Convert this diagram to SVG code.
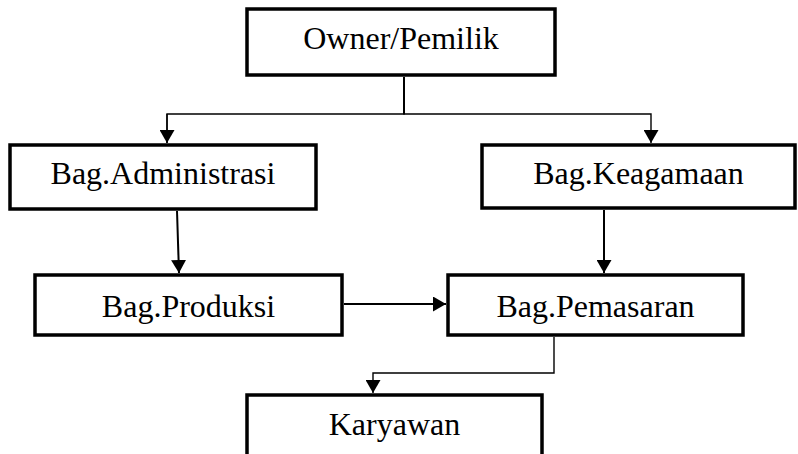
<svg xmlns="http://www.w3.org/2000/svg" width="798" height="454" viewBox="0 0 798 454">
<defs>
<style>
.box{fill:#fff;stroke:#000;stroke-width:3.5}
.lbl{font-family:"Liberation Serif","Times New Roman",serif;font-size:32px;fill:#000;text-anchor:middle}
.thin{fill:none;stroke:#000;stroke-width:1.4}
.thick{fill:none;stroke:#000;stroke-width:2}
</style>
<marker id="arr" viewBox="0 0 13 15" refX="13" refY="7.5" markerWidth="13" markerHeight="15" markerUnits="userSpaceOnUse" orient="auto">
<path d="M0,0 L13,7.5 L0,15 z" fill="#000"/>
</marker>
</defs>
<rect width="798" height="454" fill="#fff"/>
<g id="connectors">
<line class="thick" x1="404" y1="77" x2="404" y2="114.5"/>
<polyline class="thin" points="167,143 167,114 651,114 651,143" marker-end="url(#arr)"/>
<line class="thin" x1="167" y1="114" x2="167" y2="143" marker-end="url(#arr)"/>
<line class="thick" x1="177" y1="211" x2="179" y2="273" marker-end="url(#arr)"/>
<line class="thick" x1="604" y1="210" x2="604" y2="273" marker-end="url(#arr)"/>
<line class="thick" x1="344" y1="304" x2="446" y2="304" marker-end="url(#arr)"/>
<polyline class="thin" points="554,337 554,373 373,373 373,393" marker-end="url(#arr)"/>
</g>
<g id="owner">
<rect class="box" x="247" y="9" width="308" height="66"/>
<text class="lbl" x="401" y="49">Owner/Pemilik</text>
</g>
<g id="administrasi">
<rect class="box" x="10" y="145" width="306" height="64"/>
<text class="lbl" x="163" y="184">Bag.Administrasi</text>
</g>
<g id="keagamaan">
<rect class="box" x="482" y="145" width="313" height="63"/>
<text class="lbl" x="638.5" y="184">Bag.Keagamaan</text>
</g>
<g id="produksi">
<rect class="box" x="35" y="275" width="307" height="60"/>
<text class="lbl" x="188.5" y="317">Bag.Produksi</text>
</g>
<g id="pemasaran">
<rect class="box" x="448" y="275" width="295" height="60"/>
<text class="lbl" x="595.5" y="317">Bag.Pemasaran</text>
</g>
<g id="karyawan">
<rect class="box" x="247" y="395" width="295" height="70"/>
<text class="lbl" x="394.5" y="435">Karyawan</text>
</g>
</svg>
